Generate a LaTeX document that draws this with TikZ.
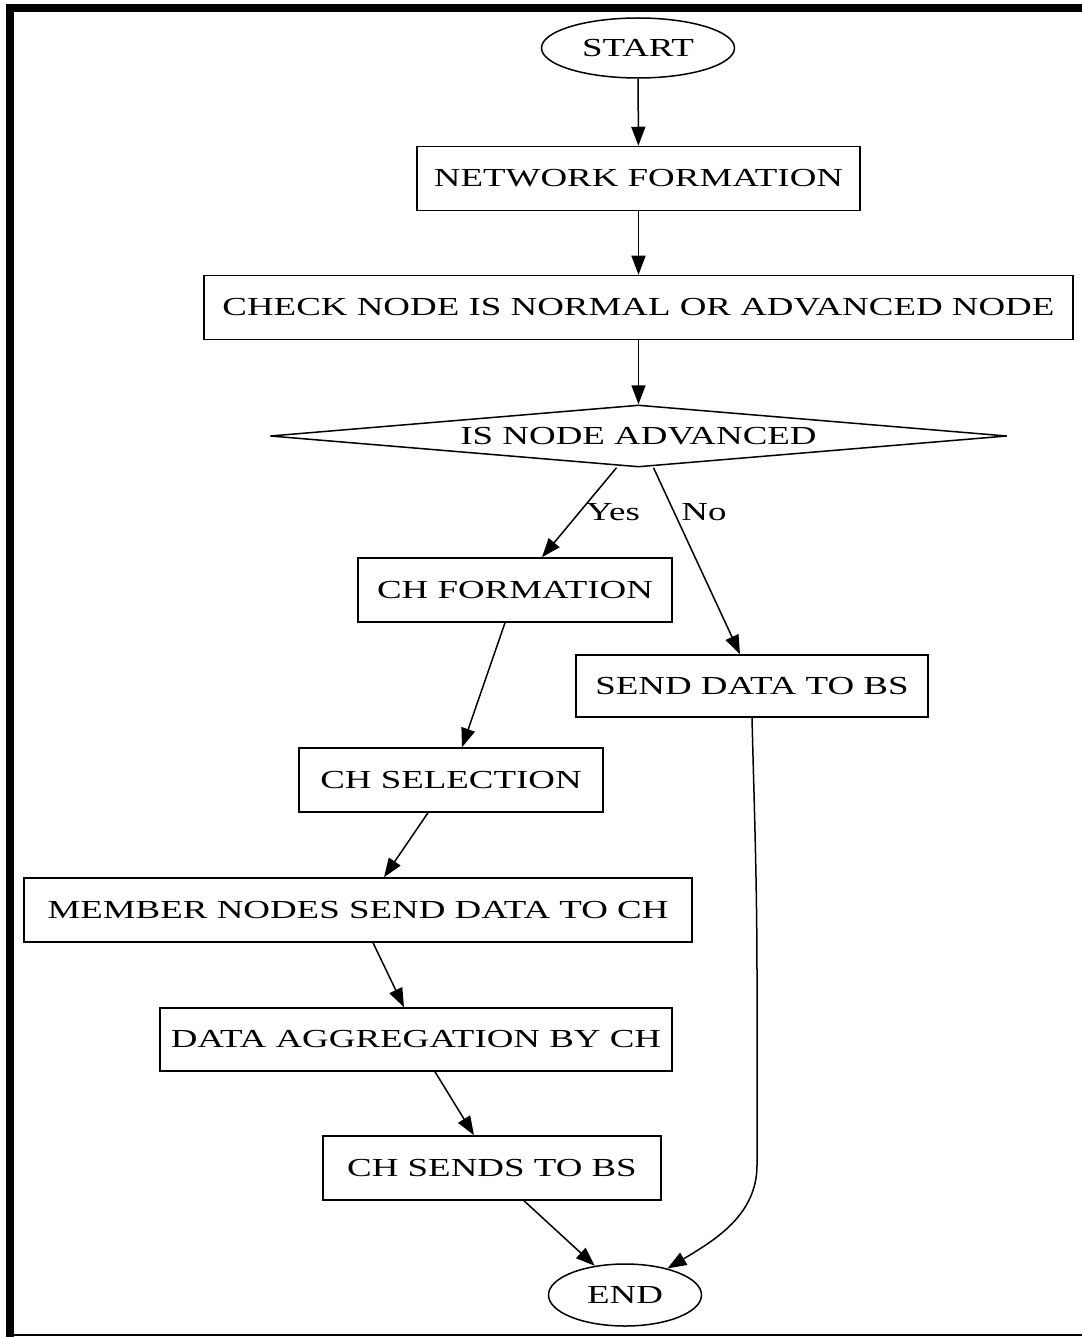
\documentclass[tikz,border=0pt]{standalone}
\usepackage{fontspec}
\newfontfamily\gvfont[FakeStretch=1.42]{Liberation Serif}
\usetikzlibrary{shapes.geometric,arrows.meta}
\begin{document}
\begin{tikzpicture}[x=1pt,y=-1pt,
  every node/.style={font=\gvfont\fontsize{26}{30}\selectfont, inner sep=0pt},
  procbox/.style={draw, line width=1.5pt, rectangle, minimum height=64pt},
  term/.style={draw, line width=1.5pt, ellipse},
  arr/.style={draw, line width=1.5pt, -{Triangle[length=19pt,width=14pt]}},
  lbl/.style={fill=none}]
\useasboundingbox (0,0) rectangle (1082,1337);
% frame
\fill (6,4) rectangle (1082,12);
\fill (6,4) rectangle (14,1337);
\draw[line width=2pt] (6,1335) -- (1082,1335);

% nodes
\node[term, minimum width=193pt, minimum height=60pt] (start) at (638,48) {START};
\node[procbox, minimum width=443pt] (netf) at (638.5,178.5) {NETWORK FORMATION};
\node[procbox, minimum width=869pt] (check) at (638.5,307.5) {CHECK NODE IS NORMAL OR ADVANCED NODE};
\node[draw, line width=1.5pt, diamond, minimum width=737pt, minimum height=62pt] (dia) at (638.5,436) {};
\node (diatext) at (638.5,436) {IS NODE ADVANCED};
\node[procbox, minimum width=314pt] (chf) at (515,590) {CH FORMATION};
\node[procbox, minimum width=352pt, minimum height=62pt] (send) at (752,686) {SEND DATA TO BS};
\node[procbox, minimum width=304pt] (chsel) at (451,780) {CH SELECTION};
\node[procbox, minimum width=668pt] (member) at (358,910) {MEMBER NODES SEND DATA TO CH};
\node[procbox, minimum width=512pt, minimum height=63pt] (agg) at (416,1039.5) {DATA AGGREGATION BY CH};
\node[procbox, minimum width=338pt] (chs) at (492,1168) {CH SENDS TO BS};
\node[term, minimum width=153pt, minimum height=62pt] (endn) at (625,1295) {END};

% edges
\draw[arr] (start) -- (netf);
\draw[arr] (netf) -- (check);
\draw[arr] (check) -- (dia);
\draw[arr] ([xshift=-22pt]dia.south) -- ([xshift=27pt]chf.north);
\node (yes) at (613,512) {Yes};
\draw[arr] ([xshift=15pt]dia.south) -- ([xshift=-12pt]send.north);
\node (no) at (704,512) {No};
\draw[arr] ([xshift=-10pt]chf.south) -- ([xshift=11pt]chsel.north);
\draw[arr] ([xshift=-23pt]chsel.south) -- ([xshift=26pt]member.north);
\draw[arr] ([xshift=15pt]member.south) -- ([xshift=-12pt]agg.north);
\draw[arr] ([xshift=19pt]agg.south) -- ([xshift=-18pt]chs.north);
\draw[arr] ([xshift=32pt]chs.south) -- (endn.136);
\draw[arr] (send.south) .. controls (754,800) and (757,880) .. (757,980)
  -- (757,1165) .. controls (757,1215) and (715,1240) .. (endn.32);
\end{tikzpicture}
\end{document}
